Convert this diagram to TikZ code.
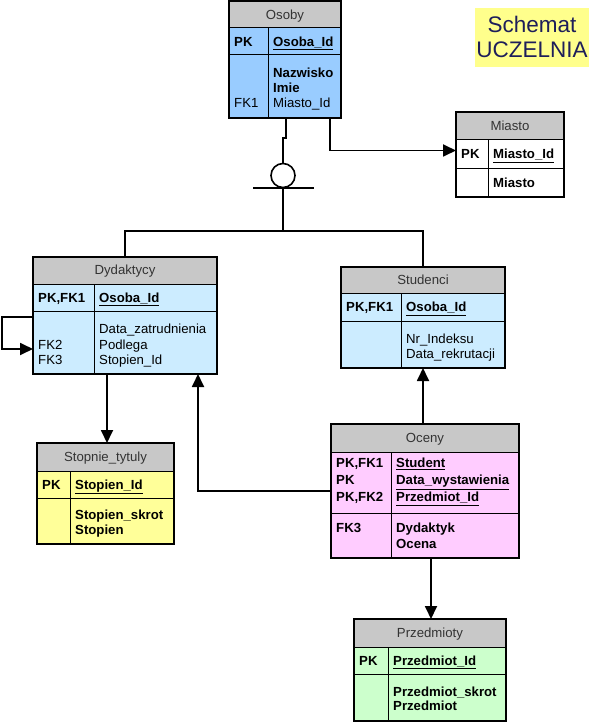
\documentclass[tikz,border=0pt]{standalone}
\usepackage{fontspec}
\setmainfont{Liberation Sans}
\usetikzlibrary{arrows.meta,calc}
\definecolor{hdrfill}{RGB}{200,200,200}
\definecolor{osobyfill}{RGB}{153,204,255}
\definecolor{cyanfill}{RGB}{204,236,255}
\definecolor{yelfill}{RGB}{255,255,153}
\definecolor{pinkfill}{RGB}{255,204,255}
\definecolor{greenfill}{RGB}{204,255,204}
\definecolor{schemfill}{RGB}{255,255,140}
\definecolor{schemtext}{RGB}{30,30,90}
\newcommand\tf{\fontsize{13.2}{15}\selectfont}
\newcommand\bu[1]{\textbf{\underline{#1}}}
\tikzset{
  rulel/.style={line width=1pt, draw=black},
  borderl/.style={line width=1.2pt, draw=black},
  conn/.style={line width=1.8pt, draw=black},
  tipa/.style={-{Triangle[length=13pt,width=12pt]}},
  lbl/.style={anchor=base west, inner sep=0pt, font=\tf},
  ttl/.style={anchor=base, inner sep=0pt, font=\tf, text=black!80},
}
% name, left, top, right, bottom, header bottom, pk bottom, divider, fill
\newcommand\ertab[9]{%
  \node[inner sep=0pt, outer sep=0pt, minimum width={#4pt-#2pt}, minimum height={#5pt-#3pt}, fill=#9] (#1) at ({(#2+#4)/2},{(#3+#5)/2}) {};
  \fill[hdrfill] (#2,#3) rectangle (#4,#6);
  \draw[rulel] (#2,#6) -- (#4,#6) (#2,#7) -- (#4,#7) (#8,#6) -- (#8,#5);
  \draw[borderl] (#1.south west) rectangle (#1.north east);
}
\newcommand\tx[4]{\node[lbl] (#1) at (#2,{#3+4.7}) {#4};}
\newcommand\ttlx[4]{\node[ttl] (#1) at (#2,{#3+4.7}) {#4};}
\begin{document}
\begin{tikzpicture}[x=1pt,y=-1pt]
\useasboundingbox (0,0) rectangle (589,722);

% Schemat title
\node[inner sep=0pt, outer sep=0pt, minimum width=114pt, minimum height=59pt, fill=schemfill] (schemat) at (532,37.5) {};
\node[inner sep=0pt, anchor=base, font=\fontsize{22.5}{27}\selectfont, text=schemtext] (schemat1) at (532,33) {Schemat};
\node[inner sep=0pt, anchor=base, font=\fontsize{22.5}{27}\selectfont, text=schemtext] (schemat2) at (532,57.5) {UCZELNIA};

% Osoby
\ertab{osoby}{229}{1}{341}{118}{28}{55}{268}{osobyfill}
\ttlx{osobyt}{285}{14.5}{Osoby}
\tx{osobypk}{234}{41.5}{\textbf{PK}}
\tx{osobyid}{273}{41.5}{\bu{Osoba\_Id}}
\tx{osobya}{273}{73}{\textbf{Nazwisko}}
\tx{osobyb}{273}{88}{\textbf{Imie}}
\tx{osobyc}{273}{103}{Miasto\_Id}
\tx{osobyfk}{234}{103}{FK1}

% Miasto
\ertab{miasto}{456}{112}{564}{197}{140}{169}{488}{white}
\ttlx{miastot}{510}{126}{Miasto}
\tx{miastopk}{461}{154}{\textbf{PK}}
\tx{miastoid}{493}{154}{\bu{Miasto\_Id}}
\tx{miastoa}{493}{183}{\textbf{Miasto}}

% Dydaktycy
\ertab{dydaktycy}{33}{257}{217}{374}{284}{311}{94}{cyanfill}
\ttlx{dydt}{125}{270}{Dydaktycy}
\tx{dydpk}{38}{297.5}{\textbf{PK,FK1}}
\tx{dydid}{99}{297.5}{\bu{Osoba\_Id}}
\tx{dyda}{99}{329}{Data\_zatrudnienia}
\tx{dydb}{99}{345}{Podlega}
\tx{dydc}{99}{360}{Stopien\_Id}
\tx{dydfkb}{38}{345}{FK2}
\tx{dydfkc}{38}{360}{FK3}

% Stopnie_tytuly
\ertab{stopnie}{37}{443}{174}{544}{471}{498}{70}{yelfill}
\ttlx{stopt}{105.5}{457}{Stopnie\_tytuly}
\tx{stoppk}{42}{484.5}{\textbf{PK}}
\tx{stopid}{75}{484.5}{\bu{Stopien\_Id}}
\tx{stopa}{75}{515}{\textbf{Stopien\_skrot}}
\tx{stopb}{75}{530}{\textbf{Stopien}}

% Studenci
\ertab{studenci}{341}{267}{505}{368}{293}{321}{401}{cyanfill}
\ttlx{studt}{423}{280}{Studenci}
\tx{studpk}{346}{307}{\textbf{PK,FK1}}
\tx{studid}{406}{307}{\bu{Osoba\_Id}}
\tx{studa}{406}{339}{Nr\_Indeksu}
\tx{studb}{406}{354}{Data\_rekrutacji}

% Oceny
\ertab{oceny}{331}{424}{519}{558}{452}{513}{391}{pinkfill}
\ttlx{ocet}{425}{438}{Oceny}
\tx{ocepka}{336}{463}{\textbf{PK,FK1}}
\tx{ocepkb}{336}{480}{\textbf{PK}}
\tx{ocepkc}{336}{497}{\textbf{PK,FK2}}
\tx{ocea}{396}{463}{\bu{Student}}
\tx{oceb}{396}{480}{\bu{Data\_wystawienia}}
\tx{ocec}{396}{497}{\bu{Przedmiot\_Id}}
\tx{ocefk}{336}{528}{\textbf{FK3}}
\tx{oced}{396}{528}{\textbf{Dydaktyk}}
\tx{ocee}{396}{544}{\textbf{Ocena}}

% Przedmioty
\ertab{przedmioty}{354}{619}{506}{721}{647}{674}{388}{greenfill}
\ttlx{przt}{430}{633}{Przedmioty}
\tx{przpk}{359}{660.5}{\textbf{PK}}
\tx{przid}{393}{660.5}{\bu{Przedmiot\_Id}}
\tx{prza}{393}{692}{\textbf{Przedmiot\_skrot}}
\tx{przb}{393}{706}{\textbf{Przedmiot}}

% connectors
\node[draw, line width=1.6pt, circle, minimum size=24pt, inner sep=0pt, outer sep=0pt] (circ) at (283,175.5) {};
\coordinate (barl) at (253,188);
\coordinate (barr) at (314,188);
\coordinate (joint) at (283,231);
\draw[conn] ($(osoby.south west)+(57,0)$) -- ++(0,20) -- ++(-3,0) -- (circ.north);
\draw[conn] (barl) -- (barr);
\draw[conn] (circ.south) -- (joint);
\draw[conn] (dydaktycy.north) |- (joint) -| (studenci.north);

\draw[conn,tipa] ($(osoby.south west)+(101,0)$) |- ($(miasto.west)+(0,-4)$);

\draw[conn,tipa] ($(dydaktycy.west)+(0,1.5)$) -- ++(-31,0) |- ($(dydaktycy.west)+(0,33.5)$);

\coordinate (d1) at ($(dydaktycy.south west)+(74,0)$);
\draw[conn,tipa] (d1) -- (d1 |- stopnie.north);

\draw[conn,tipa] (oceny.west) -| ($(dydaktycy.south west)+(165,0)$);

\draw[conn,tipa] (studenci.south |- oceny.north) -- (studenci.south);

\coordinate (o1) at ($(oceny.south west)+(100,0)$);
\draw[conn,tipa] (o1) -- (o1 |- przedmioty.north);
\end{tikzpicture}
\end{document}
